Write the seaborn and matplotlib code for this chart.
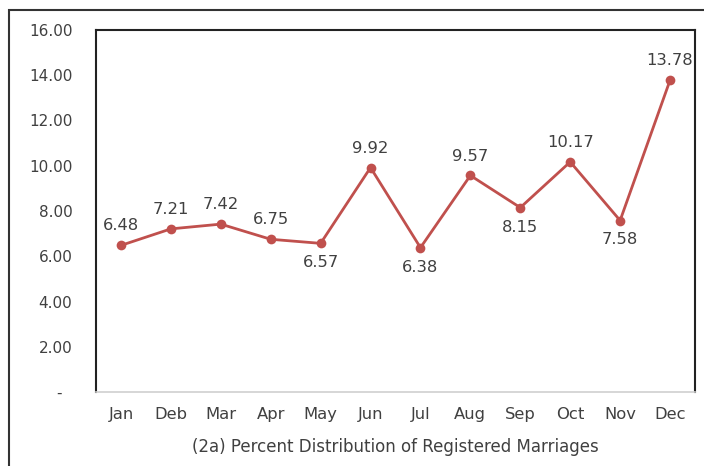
import seaborn as sns
import pandas as pd
import matplotlib
matplotlib.use("Agg")
import matplotlib.pyplot as plt
import matplotlib.ticker as ticker
from matplotlib.patches import Rectangle

months = ["Jan", "Deb", "Mar", "Apr", "May", "Jun", "Jul", "Aug", "Sep", "Oct", "Nov", "Dec"]
percent = [6.48, 7.21, 7.42, 6.75, 6.57, 9.92, 6.38, 9.57, 8.15, 10.17, 7.58, 13.78]
# label placement: 1 above the point, -1 below
label_side = [1, 1, 1, 1, -1, 1, -1, 1, -1, 1, -1, 1]
y_ticks = [0, 2, 4, 6, 8, 10, 12, 14, 16]
caption = "(2a) Percent Distribution of Registered Marriages"

sns.set_style("white")
plt.rcParams["font.family"] = ["DejaVu Sans"]
text_color = "#404040"
line_color = "#C0504D"

df = pd.DataFrame({"month": months, "percent": percent})

fig = plt.figure(figsize=(7.04, 4.66), dpi=100)
ax = fig.add_axes([96 / 704, 1 - 392 / 466, (695 - 96) / 704, (392 - 30) / 466])

sns.lineplot(data=df, x="month", y="percent", ax=ax, color=line_color,
             linewidth=2.0, marker="o", markersize=7, markeredgewidth=0, sort=False)

for i, (v, s) in enumerate(zip(percent, label_side)):
    ax.annotate(f"{v:.2f}", (i, v), xytext=(0, 14 * s), textcoords="offset points",
                ha="center", va="center", fontsize=11.8, color=text_color)

ax.set_xlim(-0.5, len(months) - 0.5)
ax.set_ylim(0, 16)
ax.set_yticks(y_ticks)
ax.yaxis.set_major_formatter(ticker.FuncFormatter(lambda v, p: "-  " if v == 0 else f"{v:.2f}"))
ax.tick_params(axis="both", length=0, labelcolor=text_color)
ax.tick_params(axis="y", pad=17, labelsize=11)
ax.tick_params(axis="x", pad=11, labelsize=11.8)
ax.set_xlabel(caption, fontsize=12, color=text_color, labelpad=11)
ax.set_ylabel("")
ax.grid(False)

for side in ["left", "top", "right"]:
    ax.spines[side].set_color("#222222")
    ax.spines[side].set_linewidth(1.5)
ax.spines["bottom"].set_color("#d0d0d0")
ax.spines["bottom"].set_linewidth(1.2)

# outer chart frame (only left and top edges fall inside the picture)
fig.patches.append(Rectangle((9 / 704, -0.05), 1.0, 1 - 10 / 466 + 0.05,
                             transform=fig.transFigure, fill=False,
                             edgecolor="#333333", linewidth=1.5))

fig.savefig("out.png", dpi=100)
